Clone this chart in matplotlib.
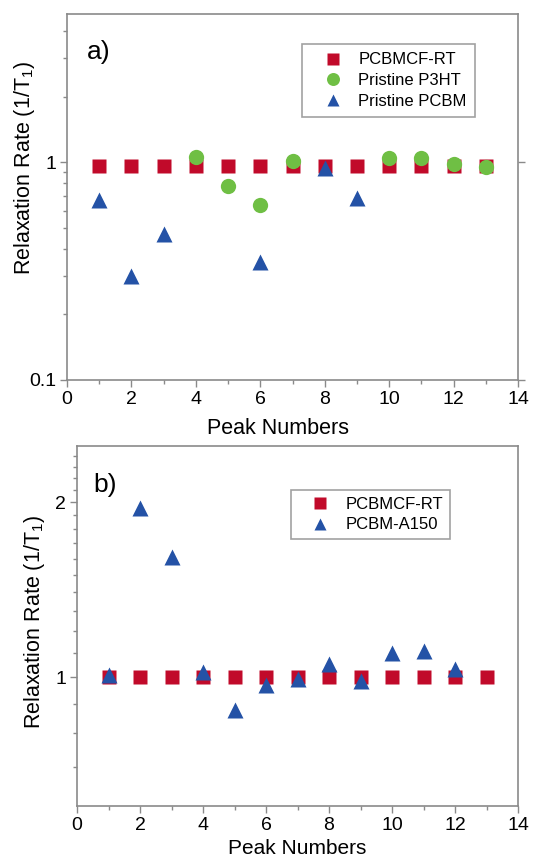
import numpy as np
import matplotlib
matplotlib.use("Agg")
import matplotlib.pyplot as plt

plt.rcParams['font.family'] = ['Liberation Sans', 'DejaVu Sans']
plt.rcParams['mathtext.default'] = 'regular'

# panel a) data
peaks = np.arange(1, 14)
cf_rt_a = [0.96] * 13
p3ht_x = [4, 5, 6, 7, 10, 11, 12, 13]
p3ht_y = [1.06, 0.78, 0.637, 1.014, 1.05, 1.05, 0.98, 0.955]
pcbm_x = [1, 2, 3, 6, 8, 9]
pcbm_y = [0.671, 0.302, 0.469, 0.347, 0.945, 0.683]

# panel b) data
cf_rt_b = [1.0] * 13
a150_x = np.arange(1, 13)
a150_y = [1.009, 1.957, 1.612, 1.022, 0.879, 0.971, 0.991, 1.054, 0.984, 1.099, 1.11, 1.033]

red = '#C10A2A'
green = '#6FBF44'
blue = '#2452A6'
spine_col = '#8a8a8a'

fig = plt.figure(figsize=(5.34, 8.57), dpi=100)
W, H = 534, 857


def make_ax(l, r, t, b):
    return fig.add_axes([l / W, 1 - b / H, (r - l) / W, (b - t) / H])


def style(ax):
    for s in ax.spines.values():
        s.set_color(spine_col)
        s.set_linewidth(1.2)
    ax.tick_params(which='both', direction='out', color=spine_col, labelsize=14, pad=3)
    ax.tick_params(which='major', length=5, width=1)
    ax.tick_params(which='minor', length=3, width=1)
    ax.set_xlim(0, 14)
    ax.set_xticks(range(0, 15, 2))
    ax.set_xticks(range(1, 14, 2), minor=True)


def add_legend(ax, anchor, bpad):
    leg = ax.legend(loc='upper right', bbox_to_anchor=anchor, borderaxespad=0,
                    fontsize=12, frameon=True, fancybox=False, edgecolor=spine_col,
                    markerscale=0.85, handlelength=2.7, handletextpad=0.2,
                    borderpad=bpad, labelspacing=0.35)
    leg.get_frame().set_linewidth(1.2)
    return leg


ax1 = make_ax(67, 518, 14, 380)
style(ax1)
ax1.set_yscale('log')
ax1.plot(peaks, cf_rt_a, 's', color=red, ms=10, mec='none', label='PCBMCF-RT')
ax1.plot(p3ht_x, p3ht_y, 'o', color=green, ms=11, mec='none', label='Pristine P3HT')
ax1.plot(pcbm_x, pcbm_y, '^', color=blue, ms=11, mec='none', label='Pristine PCBM')
ax1.set_ylim(0.1, 4.8)
ax1.set_yticks([0.1, 1], ['0.1', '1'])
ax1.set_yticks([0.2, 0.3, 0.4, 0.5, 0.6, 0.7, 0.8, 0.9, 2, 3, 4], minor=True)
ax1.yaxis.set_minor_formatter(matplotlib.ticker.NullFormatter())
ax1.tick_params(axis='y', which='major', right=True)
ax1.set_xlabel('Peak Numbers', fontsize=15.5)
ax1.set_ylabel('Relaxation Rate (1/T$_1$)', fontsize=15.5)
ax1.xaxis.set_label_coords(0.467, -0.104)
ax1.yaxis.set_label_coords(-0.066, 0.58)
ax1.text(0.044, 0.896, 'a)', transform=ax1.transAxes, fontsize=19, va='center', ha='left')
add_legend(ax1, (0.905, 0.918), 0.5)

ax2 = make_ax(77, 518, 446, 806)
style(ax2)
ax2.set_yscale('log')
ax2.plot(peaks, cf_rt_b, 's', color=red, ms=10, mec='none', label='PCBMCF-RT')
ax2.plot(a150_x, a150_y, '^', color=blue, ms=11, mec='none', label='PCBM-A150')
ax2.set_ylim(0.6, 2.5)
ax2.set_yticks([1, 2], ['1', '2'])
ax2.set_yticks([0.7, 0.8, 0.9, 1.1, 1.2, 1.3, 1.4, 1.5, 1.6, 1.7, 1.8, 1.9,
                2.1, 2.2, 2.3, 2.4], minor=True)
ax2.yaxis.set_minor_formatter(matplotlib.ticker.NullFormatter())
ax2.set_xlabel('Peak Numbers', fontsize=15)
ax2.set_ylabel('Relaxation Rate (1/T$_1$)', fontsize=15.5)
ax2.xaxis.set_label_coords(0.5, -0.092)
ax2.yaxis.set_label_coords(-0.068, 0.511)
ax2.text(0.036, 0.892, 'b)', transform=ax2.transAxes, fontsize=19, va='center', ha='left')
add_legend(ax2, (0.846, 0.878), 0.4)

fig.savefig('out.png', dpi=100)
